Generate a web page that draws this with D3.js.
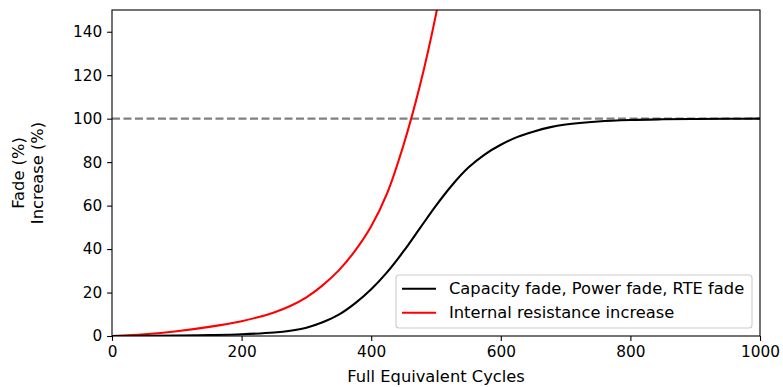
<!DOCTYPE html>
<html>
<head>
<meta charset="utf-8">
<script src="https://cdn.jsdelivr.net/npm/d3@7"></script>
<style>
  body { margin: 0; background: #fff; }
  svg { display: block; font-family: "DejaVu Sans", sans-serif; }
</style>
</head>
<body>
<svg id="chart"></svg>
<script>
// data
const cycles = [0, 50, 100, 150, 200, 250, 275, 300, 325, 350, 375, 400, 425, 450, 475, 500, 525, 550, 575, 600, 625, 650, 675, 700, 750, 800, 850, 900, 950, 1000];
const fade = [0, 0.05, 0.15, 0.4, 0.8, 1.6, 2.4, 3.8, 6.3, 9.8, 15, 21.5, 29.5, 39, 49.5, 60, 69.5, 77.5, 83.5, 88, 91.5, 94, 96, 97.3, 98.7, 99.4, 99.7, 99.85, 99.95, 100];
const resCycles = [0, 50, 100, 150, 200, 225, 250, 275, 300, 325, 350, 375, 400, 425, 450, 475, 500, 525];
const resistance = [0, 0.8, 2.2, 4.2, 6.8, 8.6, 10.8, 13.8, 17.8, 23.3, 30.2, 39.2, 50.5, 66, 88, 115, 148, 188];
const xTicks = [0, 200, 400, 600, 800, 1000];
const yTicks = [0, 20, 40, 60, 80, 100, 120, 140];
const legendLabels = ["Capacity fade, Power fade, RTE fade", "Internal resistance increase"];
const legendColors = ["black", "red"];

const width = 783, height = 387;
const margin = { top: 10, right: 23, bottom: 51, left: 112 };
const tickFs = 15.3, fs = 16.3;

const svg = d3.select("#chart")
    .attr("width", width)
    .attr("height", height);

const x = d3.scaleLinear().domain([0, 1000]).range([margin.left, width - margin.right]);
const y = d3.scaleLinear().domain([0, 150]).range([height - margin.bottom, margin.top]);

svg.append("clipPath").attr("id", "clip")
  .append("rect")
    .attr("x", x(0)).attr("y", y(150))
    .attr("width", x(1000) - x(0)).attr("height", y(0) - y(150));

const plot = svg.append("g").attr("clip-path", "url(#clip)");

// reference line at 100%
plot.append("line")
    .attr("x1", x(0)).attr("x2", x(1000))
    .attr("y1", y(100)).attr("y2", y(100))
    .attr("stroke", "#808080")
    .attr("stroke-width", 2.1)
    .attr("stroke-dasharray", "8,3.5");

const line = d3.line().curve(d3.curveCatmullRom.alpha(0.5));

plot.append("path")
    .attr("d", line(resCycles.map((c, i) => [x(c), y(resistance[i])])))
    .attr("fill", "none").attr("stroke", "red").attr("stroke-width", 2.1);

plot.append("path")
    .attr("d", line(cycles.map((c, i) => [x(c), y(fade[i])])))
    .attr("fill", "none").attr("stroke", "black").attr("stroke-width", 2.1);

// axes
const xAxis = svg.append("g")
    .attr("transform", `translate(0,${y(0)})`)
    .call(d3.axisBottom(x).tickValues(xTicks).tickFormat(d3.format("d")).tickSize(4.9).tickPadding(4.9));
const yAxis = svg.append("g")
    .attr("transform", `translate(${x(0)},0)`)
    .call(d3.axisLeft(y).tickValues(yTicks).tickFormat(d3.format("d")).tickSize(4.9).tickPadding(4.9));

[xAxis, yAxis].forEach(a => {
  a.select(".domain").remove();
  a.selectAll("line").attr("stroke", "black").attr("stroke-width", 1.1);
  a.selectAll("text").attr("font-size", tickFs).attr("fill", "black")
    .attr("font-family", "DejaVu Sans");
});

// frame
svg.append("rect")
    .attr("x", x(0)).attr("y", y(150))
    .attr("width", x(1000) - x(0)).attr("height", y(0) - y(150))
    .attr("fill", "none").attr("stroke", "black").attr("stroke-width", 1.1);

// axis labels
svg.append("text")
    .attr("x", (x(0) + x(1000)) / 2).attr("y", 382)
    .attr("text-anchor", "middle").attr("font-size", fs)
    .text("Full Equivalent Cycles");

const yMid = (y(0) + y(150)) / 2;
svg.append("text")
    .attr("transform", `translate(24,${yMid}) rotate(-90)`)
    .attr("text-anchor", "middle").attr("font-size", fs)
    .text("Fade (%)");
svg.append("text")
    .attr("transform", `translate(43,${yMid}) rotate(-90)`)
    .attr("text-anchor", "middle").attr("font-size", fs)
    .text("Increase (%)");

// legend
const legend = svg.append("g");
legend.append("rect")
    .attr("x", 396).attr("y", 275)
    .attr("width", 356).attr("height", 53)
    .attr("rx", 3)
    .attr("fill", "white").attr("fill-opacity", 0.8)
    .attr("stroke", "#cccccc").attr("stroke-width", 1.1);

legendLabels.forEach((lab, i) => {
  const ly = 288.7 + i * 24;
  legend.append("line")
      .attr("x1", 402).attr("x2", 436)
      .attr("y1", ly).attr("y2", ly)
      .attr("stroke", legendColors[i]).attr("stroke-width", 2.1);
  legend.append("text")
      .attr("x", 449).attr("y", ly)
      .attr("dy", "0.35em")
      .attr("font-size", fs)
      .text(lab);
});
</script>
</body>
</html>
